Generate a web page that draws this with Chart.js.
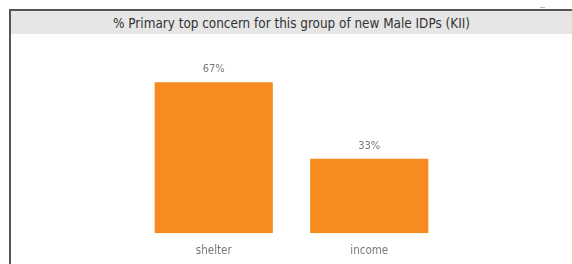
<!DOCTYPE html>
<html>
<head>
<meta charset="utf-8">
<script src="https://cdn.jsdelivr.net/npm/chart.js@4.4.0/dist/chart.umd.min.js"></script>
<style>
  html, body { margin: 0; padding: 0; background: #fff; }
  #wrap { position: relative; width: 572px; height: 264px; overflow: hidden; font-family: "DejaVu Sans Condensed", "Roboto", sans-serif; }
  #frame { position: absolute; left: 9px; top: 9px; width: 580px; height: 280px; border-left: 2px solid #555; border-top: 2px solid #555; box-sizing: border-box; }
  #band { position: absolute; left: 11px; top: 11px; width: 561px; height: 23px; background: #e6e6e6; }
  #title { position: absolute; left: 11px; top: 11px; width: 561px; height: 26px; line-height: 26px; text-align: center; font-size: 13.4px; color: #333; }
  #dash { position: absolute; left: 540px; top: 7px; width: 5px; height: 1px; background: #bbb; }
  canvas { position: absolute; left: 0; top: 0; }
</style>
</head>
<body>
<div id="wrap">
  <div id="band"></div>
  <div id="frame"></div>
  <div id="dash"></div>
  <div id="title">% Primary top concern for this group of new Male IDPs (KII)</div>
  <canvas id="c" width="572" height="264"></canvas>
</div>
<script>
const categories = ["shelter", "income"];
const values = [67, 33];
const valueSuffix = "%";

const labelPlugin = {
  id: 'valueLabels',
  afterDatasetsDraw(chart) {
    const ctx = chart.ctx;
    const meta = chart.getDatasetMeta(0);
    ctx.save();
    ctx.font = '11px "DejaVu Sans Condensed", sans-serif';
    ctx.fillStyle = '#777';
    ctx.textAlign = 'center';
    ctx.textBaseline = 'middle';
    meta.data.forEach((bar, i) => {
      ctx.fillText(values[i] + valueSuffix, bar.x, bar.y - 13);
    });
    ctx.restore();
  }
};

new Chart(document.getElementById('c'), {
  type: 'bar',
  data: {
    labels: categories,
    datasets: [{
      data: values,
      backgroundColor: '#F68B1F',
      borderWidth: 0,
      categoryPercentage: 0.76,
      barPercentage: 1
    }]
  },
  options: {
    responsive: false,
    animation: false,
    layout: { padding: { left: 136, right: 125, top: 53, bottom: 3 } },
    plugins: { legend: { display: false }, tooltip: { enabled: false } },
    scales: {
      x: {
        grid: { display: false },
        border: { display: false },
        ticks: { color: '#777', padding: 3, font: { size: 11.5, family: '"DejaVu Sans Condensed", sans-serif' } }
      },
      y: { display: false, min: 0, max: 80 }
    }
  },
  plugins: [labelPlugin]
});
</script>
</body>
</html>
